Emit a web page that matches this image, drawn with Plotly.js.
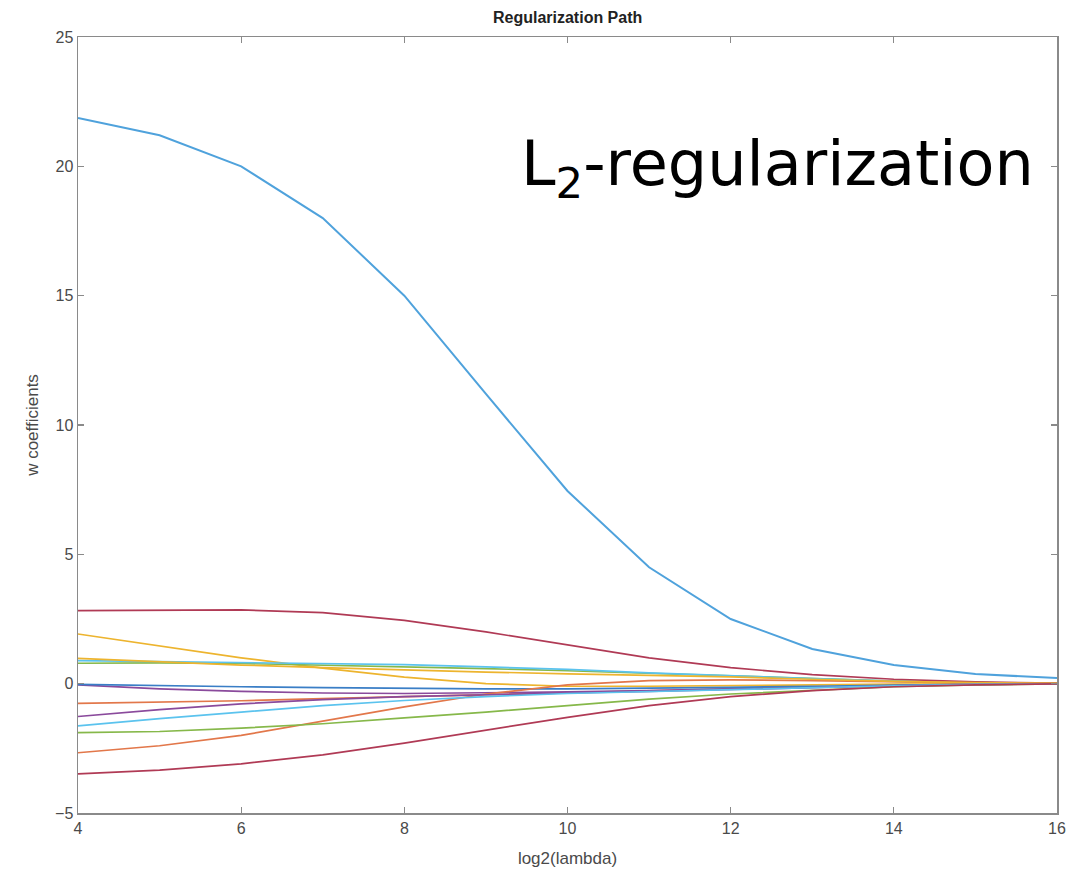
<!DOCTYPE html>
<html>
<head>
<meta charset="utf-8">
<script src="https://cdn.plot.ly/plotly-3.0.1.min.js"></script>
<style>html,body{margin:0;padding:0;background:#fff;}#chart{width:1071px;height:881px;}</style>
</head>
<body>
<div id="chart"></div>
<script>
const log2Lambda = [4, 5, 6, 7, 8, 9, 10, 11, 12, 13, 14, 15, 16];

const w1  = [21.87, 21.2, 20.0, 18.0, 15.0, 11.2, 7.45, 4.5, 2.5, 1.34, 0.72, 0.37, 0.22];
const w2  = [-0.76, -0.72, -0.66, -0.58, -0.5, -0.42, -0.35, -0.28, -0.2, -0.13, -0.07, -0.03, -0.01];
const w3  = [1.92, 1.45, 1.0, 0.6, 0.25, 0.0, -0.1, -0.1, -0.07, -0.04, -0.02, -0.01, 0];
const w4  = [-0.05, -0.2, -0.3, -0.36, -0.38, -0.36, -0.32, -0.27, -0.2, -0.13, -0.07, -0.03, 0];
const w5  = [0.79, 0.8, 0.78, 0.72, 0.65, 0.58, 0.5, 0.4, 0.3, 0.2, 0.1, 0.04, 0.01];
const w6  = [0.89, 0.85, 0.82, 0.78, 0.74, 0.65, 0.55, 0.42, 0.3, 0.2, 0.1, 0.04, 0.01];
const w7  = [2.82, 2.84, 2.85, 2.75, 2.45, 2.0, 1.5, 1.0, 0.62, 0.35, 0.17, 0.07, 0.02];
const w8  = [-0.03, -0.08, -0.12, -0.15, -0.18, -0.2, -0.2, -0.18, -0.14, -0.1, -0.05, -0.02, 0];
const w9  = [-2.67, -2.4, -2.0, -1.45, -0.9, -0.4, -0.05, 0.12, 0.15, 0.12, 0.07, 0.03, 0.01];
const w10 = [0.98, 0.85, 0.72, 0.62, 0.53, 0.45, 0.38, 0.32, 0.26, 0.17, 0.09, 0.04, 0.01];
const w11 = [-1.27, -1.0, -0.78, -0.62, -0.5, -0.42, -0.36, -0.3, -0.22, -0.15, -0.08, -0.03, -0.01];
const w12 = [-1.89, -1.85, -1.72, -1.55, -1.32, -1.1, -0.85, -0.6, -0.4, -0.25, -0.12, -0.05, -0.01];
const w13 = [-1.63, -1.35, -1.1, -0.85, -0.65, -0.5, -0.38, -0.3, -0.22, -0.15, -0.08, -0.03, -0.01];
const w14 = [-3.49, -3.34, -3.1, -2.75, -2.3, -1.8, -1.3, -0.85, -0.5, -0.27, -0.12, -0.05, -0.01];

const series = [w1, w2, w3, w4, w5, w6, w7, w8, w9, w10, w11, w12, w13, w14];
const colors = ['#4FA2DC', '#E2774A', '#EDB42E', '#8A4A9C', '#86B84A', '#5BC3EE', '#B03A55',
                '#3A7EC6', '#E2774A', '#EDB42E', '#8A4A9C', '#86B84A', '#5BC3EE', '#B03A55'];

const xTicks = [4, 6, 8, 10, 12, 14, 16];
const yTicks = [-5, 0, 5, 10, 15, 20, 25];

const traces = series.map((s, i) => ({
  x: log2Lambda, y: s, type: 'scatter', mode: 'lines',
  line: {color: colors[i], width: i === 0 ? 2 : 1.7},
  hoverinfo: 'skip', showlegend: false
}));

const axisCommon = {
  showgrid: false, zeroline: false, showline: true, mirror: 'ticks',
  linecolor: '#8a8a8a', linewidth: 1.5,
  ticks: 'inside', ticklen: 6, tickcolor: '#8a8a8a', tickwidth: 1.2,
  tickfont: {family: 'Liberation Sans, Arial, sans-serif', size: 16, color: '#4a4a4a'}
};

const layout = {
  width: 1071, height: 881,
  margin: {l: 78, r: 14, t: 37, b: 68},
  paper_bgcolor: '#fff', plot_bgcolor: '#fff',
  title: {text: '<b>Regularization Path</b>', x: 0.53, xanchor: 'center', y: 0.98, yanchor: 'middle',
          font: {family: 'Liberation Sans, Arial, sans-serif', size: 16, color: '#222'}},
  xaxis: Object.assign({}, axisCommon, {
    range: [4, 16], tickvals: xTicks,
    title: {text: 'log2(lambda)', standoff: 16, font: {family: 'Liberation Sans, Arial, sans-serif', size: 17, color: '#4a4a4a'}}
  }),
  yaxis: Object.assign({}, axisCommon, {
    range: [-5, 25], tickvals: yTicks,
    title: {text: 'w coefficients', standoff: 12, font: {family: 'Liberation Sans, Arial, sans-serif', size: 17, color: '#4a4a4a'}}
  }),
  annotations: [{
    text: 'L<sub>2</sub>-regularization', xref: 'paper', yref: 'paper',
    x: 0.45, y: 0.832, xanchor: 'left', yanchor: 'middle', showarrow: false,
    font: {family: 'DejaVu Sans, sans-serif', size: 62, color: '#000'}
  }]
};

Plotly.newPlot('chart', traces, layout, {displayModeBar: false, staticPlot: true});
</script>
</body>
</html>
